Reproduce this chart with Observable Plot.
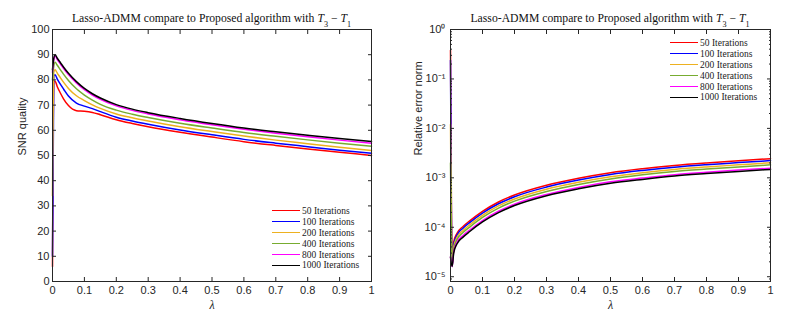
<!DOCTYPE html>
<html><head><meta charset="utf-8">
<script src="https://cdn.jsdelivr.net/npm/d3@7"></script>
<script src="https://cdn.jsdelivr.net/npm/@observablehq/plot@0.6"></script>
<style>
body{margin:0;background:#fff;}
#wrap{position:relative;width:799px;height:322px;display:flex;}
.panel{position:relative;height:322px;}
.title{height:25px;font-family:"Liberation Serif",serif;font-size:11.7px;color:#111;display:flex;align-items:flex-end;justify-content:center;line-height:1;white-space:nowrap;box-sizing:border-box;}
.title sub{font-size:0.7em;vertical-align:-0.25em;line-height:0;}
.legend{position:absolute;font-family:"Liberation Serif",serif;font-size:9.5px;color:#222;}
.row{display:flex;align-items:center;height:10.9px;white-space:nowrap;}
.sw{width:28px;height:0;border-top:1.6px solid;margin-right:2px;}
</style></head>
<body>
<div id="wrap">
  <div class="panel" id="p1" style="width:400px">
    <div class="title" style="padding-left:52px;padding-right:29px">Lasso-ADMM compare to Proposed algorithm with&nbsp;<i>T</i><sub>3</sub>&nbsp;−&nbsp;<i>T</i><sub>1</sub></div>
  </div>
  <div class="panel" id="p2" style="width:399px">
    <div class="title" style="padding-left:50px;padding-right:29px">Lasso-ADMM compare to Proposed algorithm with&nbsp;<i>T</i><sub>3</sub>&nbsp;−&nbsp;<i>T</i><sub>1</sub></div>
  </div>
</div>
<script>
// ---- series names and colours ----
const seriesNames = ["50 Iterations","100 Iterations","200 Iterations","400 Iterations","800 Iterations","1000 Iterations"];
const seriesColors = ["#ff0000","#0000ff","#edb120","#77ac30","#ff00ff","#000000"];

// ---- left panel: SNR quality ----
const lambdaL = [0, 0.004, 0.008, 0.015, 0.025, 0.035, 0.05, 0.075, 0.1, 0.125, 0.15, 0.2, 0.25, 0.3, 0.4, 0.5, 0.6, 0.7, 0.8, 0.9, 1.0];
const snr50   = [6, 79.5, 79.5, 77.3, 74.7, 72.4, 69.8, 67.8, 67.6, 67.1, 66.2, 64.2, 62.7, 61.4, 59.2, 57.3, 55.5, 54.0, 52.6, 51.3, 50.0];
const snr100  = [10, 81.5, 82, 80.3, 78.2, 76.3, 73.6, 70.8, 69.6, 68.6, 67.4, 65.2, 63.7, 62.4, 60.1, 58.2, 56.4, 54.9, 53.5, 52.1, 50.9];
const snr200  = [34, 83, 84, 82.7, 80.8, 79.0, 76.6, 73.7, 71.8, 70.1, 68.7, 66.5, 65.0, 63.7, 61.4, 59.5, 57.7, 56.1, 54.7, 53.3, 52.0];
const snr400  = [80, 85.5, 87, 85.8, 84.0, 82.2, 79.8, 76.5, 74.0, 72.0, 70.3, 68.0, 66.4, 65.1, 62.8, 60.9, 59.1, 57.6, 56.2, 54.9, 53.7];
const snr800  = [83, 88, 89.5, 88.1, 86.3, 84.5, 82.1, 78.8, 76.1, 74.0, 72.3, 69.7, 67.9, 66.5, 64.2, 62.2, 60.4, 58.8, 57.4, 56.1, 54.9];
const snr1000 = [84, 88.5, 90, 88.6, 86.8, 85.0, 82.6, 79.3, 76.6, 74.5, 72.8, 70.2, 68.4, 67.0, 64.7, 62.7, 60.9, 59.4, 58.0, 56.7, 55.6];

// ---- right panel: relative error norm ----
const lambdaR = [0, 0.005, 0.01, 0.02, 0.04, 0.06, 0.1, 0.15, 0.2, 0.3, 0.4, 0.5, 0.6, 0.7, 0.8, 0.9, 1.0];
const err50   = [0.38, 3e-5, 5e-5, 7.5e-5, 1.05e-4, 1.35e-4, 2.1e-4, 3.25e-4, 4.5e-4, 7.1e-4, 9.8e-4, 1.27e-3, 1.53e-3, 1.78e-3, 2.0e-3, 2.21e-3, 2.44e-3];
const err100  = [0.24, 1.7e-5, 4.5e-5, 6.9e-5, 9.7e-5, 1.24e-4, 1.93e-4, 2.99e-4, 4.14e-4, 6.5e-4, 9.0e-4, 1.17e-3, 1.41e-3, 1.64e-3, 1.84e-3, 2.03e-3, 2.23e-3];
const err200  = [0.012, 1.8e-5, 4.0e-5, 6.2e-5, 8.7e-5, 1.12e-4, 1.74e-4, 2.7e-4, 3.73e-4, 5.9e-4, 8.1e-4, 1.05e-3, 1.27e-3, 1.48e-3, 1.66e-3, 1.83e-3, 2.02e-3];
const err400  = [2e-3, 1.7e-5, 3.6e-5, 5.6e-5, 7.9e-5, 1.01e-4, 1.58e-4, 2.44e-4, 3.38e-4, 5.3e-4, 7.35e-4, 9.5e-4, 1.15e-3, 1.34e-3, 1.5e-3, 1.66e-3, 1.83e-3];
const err800  = [2.5e-5, 1.6e-5, 3.2e-5, 4.9e-5, 6.9e-5, 8.8e-5, 1.37e-4, 2.11e-4, 2.93e-4, 4.6e-4, 6.4e-4, 8.3e-4, 9.9e-4, 1.16e-3, 1.3e-3, 1.44e-3, 1.56e-3];
const err1000 = [2.5e-5, 1.6e-5, 3.0e-5, 4.6e-5, 6.4e-5, 8.2e-5, 1.28e-4, 1.98e-4, 2.75e-4, 4.35e-4, 6.0e-4, 7.75e-4, 9.3e-4, 1.09e-3, 1.22e-3, 1.35e-3, 1.48e-3];

// ---- tick values ----
const xTicks = [0, 0.1, 0.2, 0.3, 0.4, 0.5, 0.6, 0.7, 0.8, 0.9, 1];
const yTicksL = [0, 10, 20, 30, 40, 50, 60, 70, 80, 90, 100];
const yExpR = [-5, -4, -3, -2, -1, 0];

// ---- build tables ----
function tidy(xs, arrs) {
  const out = [];
  arrs.forEach((a, i) => a.forEach((v, j) => out.push({lam: xs[j], v, s: seriesNames[i]})));
  return out;
}
const dataL = tidy(lambdaL, [snr50, snr100, snr200, snr400, snr800, snr1000]);
const dataR = tidy(lambdaR, [err50, err100, err200, err400, err800, err1000]);

const sup = {"-":"⁻","0":"⁰","1":"¹","2":"²","3":"³","4":"⁴","5":"⁵","6":"⁶","7":"⁷","8":"⁸","9":"⁹"};
const majorR = yExpR.map(e => Math.pow(10, e));
const minorR = [];
yExpR.slice(0, -1).forEach(e => { for (let k = 2; k <= 9; k++) minorR.push(k * Math.pow(10, e)); });
minorR.push(9e-6);
const fmtX = d => String(+d.toFixed(1));
const fmtLog = d => "10" + String(Math.round(Math.log10(d))).split("").map(c => sup[c]).join("");
const blank = () => "";

const baseStyle = {fontFamily: "Arial, 'Liberation Sans', Helvetica, sans-serif", fontSize: "11px", color: "#262626", background: "transparent", overflow: "visible"};
const colorScale = {domain: seriesNames, range: seriesColors};

const left = Plot.plot({
  width: 400, height: 297, marginTop: 4, marginLeft: 52, marginRight: 29, marginBottom: 41,
  style: baseStyle,
  x: {domain: [0, 1]},
  y: {domain: [0, 100]},
  color: colorScale,
  marks: [
    Plot.line(dataL, {x: "lam", y: "v", z: "s", stroke: "s", strokeWidth: 1.5, curve: "monotone-x"}),
    Plot.frame({stroke: "#262626"}),
    Plot.axisX(xTicks, {anchor: "bottom", tickSize: 0, tickPadding: 5, tickFormat: fmtX, label: null}),
    Plot.axisX(xTicks, {anchor: "bottom", tickSize: -4, tickFormat: blank, label: null}),
    Plot.axisX(xTicks, {anchor: "top", tickSize: -4, tickFormat: blank, label: null}),
    Plot.axisY(yTicksL, {anchor: "left", tickSize: 0, tickPadding: 3, label: null}),
    Plot.axisY(yTicksL, {anchor: "left", tickSize: -4, tickFormat: blank, label: null}),
    Plot.axisY(yTicksL, {anchor: "right", tickSize: -4, tickFormat: blank, label: null}),
    Plot.text(["λ"], {frameAnchor: "bottom", dy: 27, text: d => d, fontFamily: "'Liberation Serif', serif", fontStyle: "italic", fontSize: 12, fill: "#262626"}),
    Plot.text(["SNR quality"], {frameAnchor: "left", dx: -30, rotate: -90, text: d => d, fontSize: 11, fill: "#262626"})
  ]
});

const right = Plot.plot({
  width: 399, height: 297, marginTop: 4, marginLeft: 50, marginRight: 29, marginBottom: 41,
  style: baseStyle,
  x: {domain: [0, 1]},
  y: {type: "log", domain: [8e-6, 1]},
  color: colorScale,
  marks: [
    Plot.line(dataR, {x: "lam", y: "v", z: "s", stroke: "s", strokeWidth: 1.5, curve: "monotone-x"}),
    Plot.frame({stroke: "#262626"}),
    Plot.axisX(xTicks, {anchor: "bottom", tickSize: 0, tickPadding: 5, tickFormat: fmtX, label: null}),
    Plot.axisX(xTicks, {anchor: "bottom", tickSize: -4, tickFormat: blank, label: null}),
    Plot.axisX(xTicks, {anchor: "top", tickSize: -4, tickFormat: blank, label: null}),
    Plot.axisY(majorR, {anchor: "left", tickSize: 0, tickPadding: 5, tickFormat: fmtLog, label: null}),
    Plot.axisY(majorR, {anchor: "left", tickSize: -4, tickFormat: blank, label: null}),
    Plot.axisY(majorR, {anchor: "right", tickSize: -4, tickFormat: blank, label: null}),
    Plot.axisY(minorR, {anchor: "left", tickSize: -2, tickFormat: blank, label: null}),
    Plot.axisY(minorR, {anchor: "right", tickSize: -2, tickFormat: blank, label: null}),
    Plot.text(["λ"], {frameAnchor: "bottom", dy: 27, text: d => d, fontFamily: "'Liberation Serif', serif", fontStyle: "italic", fontSize: 12, fill: "#262626"}),
    Plot.text(["Relative error norm"], {frameAnchor: "left", dx: -32, rotate: -90, text: d => d, fontSize: 11, fill: "#262626"})
  ]
});

document.getElementById("p1").appendChild(left);
document.getElementById("p2").appendChild(right);

function legend(panelId, leftPx, topPx) {
  const box = document.createElement("div");
  box.className = "legend";
  box.style.left = leftPx + "px";
  box.style.top = topPx + "px";
  seriesNames.forEach((n, i) => {
    const row = document.createElement("div");
    row.className = "row";
    const sw = document.createElement("span");
    sw.className = "sw";
    sw.style.borderTopColor = seriesColors[i];
    const t = document.createElement("span");
    t.textContent = n;
    row.appendChild(sw); row.appendChild(t);
    box.appendChild(row);
  });
  document.getElementById(panelId).appendChild(box);
}
legend("p1", 272, 205.5);
legend("p2", 270, 37.5);
</script>
</body></html>
